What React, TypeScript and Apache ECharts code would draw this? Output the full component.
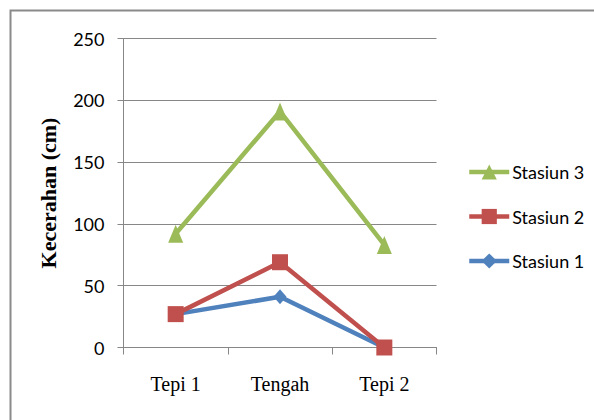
import React, { useEffect, useRef } from "react";
import * as echarts from "echarts";

const categories = ["Tepi 1", "Tengah", "Tepi 2"];
const stasiun1 = [27, 41, 0];
const stasiun2 = [27, 69, 0];
const stasiun3 = [92, 191, 83];
const yTicks = { min: 0, max: 250, interval: 50 };

const BLUE = "#4F81BD";
const RED = "#C0504D";
const GREEN = "#9BBB59";
const AXIS = "#878787";

export default function App() {
  const ref = useRef<HTMLDivElement>(null);

  useEffect(() => {
    if (!ref.current) return;
    const chart = echarts.init(ref.current, undefined, { renderer: "svg" });
    chart.setOption({
      animation: false,
      backgroundColor: "#ffffff",
      graphic: [
        {
          type: "rect",
          shape: { x: 10.5, y: 10.5, width: 620, height: 440 },
          style: { fill: "none", stroke: "#8a8a8a", lineWidth: 2 },
          silent: true,
        },
      ],
      grid: { left: 123.5, right: 157.5, top: 38.5, bottom: 72.5 },
      xAxis: {
        type: "category",
        data: categories,
        boundaryGap: true,
        axisLine: { lineStyle: { color: AXIS, width: 1 } },
        axisTick: { show: true, length: 7, lineStyle: { color: AXIS } },
        axisLabel: {
          color: "#000",
          fontFamily: "'Liberation Serif', 'Times New Roman', serif",
          fontSize: 20,
          margin: 26,
        },
      },
      yAxis: {
        type: "value",
        min: yTicks.min,
        max: yTicks.max,
        interval: yTicks.interval,
        name: "Kecerahan (cm)",
        nameLocation: "middle",
        nameGap: 64,
        nameRotate: 90,
        nameTextStyle: {
          color: "#000",
          fontFamily: "'Liberation Serif', 'Times New Roman', serif",
          fontWeight: "bold",
          fontSize: 22,
        },
        axisLine: { show: true, lineStyle: { color: AXIS, width: 1 } },
        axisTick: { show: true, length: 6, lineStyle: { color: AXIS } },
        splitLine: { show: true, lineStyle: { color: AXIS, width: 1 } },
        axisLabel: {
          color: "#000",
          fontFamily: "Lato, 'Open Sans', sans-serif",
          fontSize: 18,
          margin: 19,
        },
      },
      legend: {
        orient: "vertical",
        left: 462,
        top: 158,
        itemWidth: 40,
        itemHeight: 19,
        itemGap: 26.5,
        data: ["Stasiun 3", "Stasiun 2", "Stasiun 1"],
        lineStyle: { width: 4.5 },
        textStyle: {
          color: "#000",
          fontFamily: "Lato, 'Open Sans', sans-serif",
          fontSize: 18,
          padding: [0, 0, 0, -2],
        },
      },
      series: [
        {
          name: "Stasiun 1",
          type: "line",
          data: stasiun1,
          symbol: "diamond",
          symbolSize: [13, 15],
          lineStyle: { color: BLUE, width: 4.5 },
          itemStyle: { color: BLUE },
        },
        {
          name: "Stasiun 2",
          type: "line",
          data: stasiun2,
          symbol: "rect",
          symbolSize: 16,
          lineStyle: { color: RED, width: 4.5 },
          itemStyle: { color: RED },
        },
        {
          name: "Stasiun 3",
          type: "line",
          data: stasiun3,
          symbol: "triangle",
          symbolSize: [15, 18],
          lineStyle: { color: GREEN, width: 4.5 },
          itemStyle: { color: GREEN },
        },
      ],
    });
    return () => chart.dispose();
  }, []);

  return <div ref={ref} style={{ width: 594, height: 420, position: "absolute", left: 0, top: 0 }} />;
}
